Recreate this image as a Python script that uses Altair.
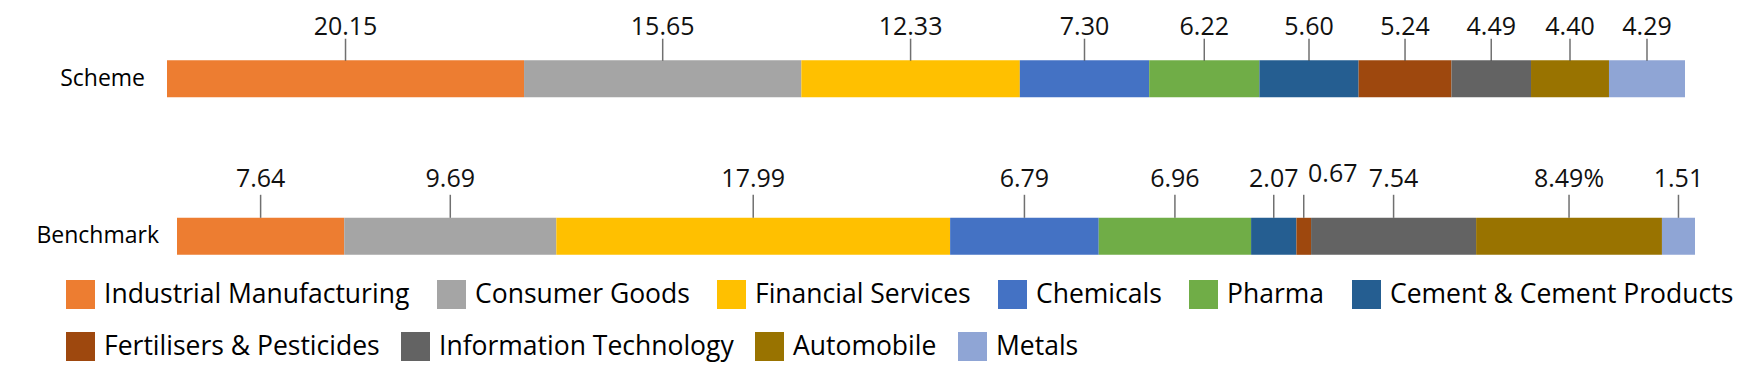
import altair as alt
import pandas as pd

categories = ["Industrial Manufacturing", "Consumer Goods", "Financial Services", "Chemicals",
              "Pharma", "Cement & Cement Products", "Fertilisers & Pesticides",
              "Information Technology", "Automobile", "Metals"]
colors = ["#ED7D31", "#A5A5A5", "#FFC000", "#4472C4", "#70AD47", "#255E91",
          "#9E480E", "#636363", "#997300", "#8FA5D5"]
rows = ["Scheme", "Benchmark"]
scheme_values = [20.15, 15.65, 12.33, 7.30, 6.22, 5.60, 5.24, 4.49, 4.40, 4.29]
benchmark_values = [7.64, 9.69, 17.99, 6.79, 6.96, 2.07, 0.67, 7.54, 8.49, 1.51]
scheme_labels = ["20.15", "15.65", "12.33", "7.30", "6.22", "5.60", "5.24", "4.49", "4.40", "4.29"]
benchmark_labels = ["7.64", "9.69", "17.99", "6.79", "6.96", "2.07", "0.67", "7.54", "8.49%", "1.51"]
legend_row1 = 6  # number of legend entries on the first legend line

recs = []
for r, vals, labs in [("Scheme", scheme_values, scheme_labels), ("Benchmark", benchmark_values, benchmark_labels)]:
    for i, (c, v, l) in enumerate(zip(categories, vals, labs)):
        recs.append({"row": r, "cat": c, "idx": i, "value": v, "label": l})
df = pd.DataFrame(recs)

FONT = "Open Sans"

base = (
    alt.Chart(df)
    .transform_joinaggregate(total="sum(value)", groupby=["row"])
    .transform_window(cum="sum(value)", sort=[alt.SortField("idx")], groupby=["row"], frame=[None, 0])
    .transform_calculate(
        s0="(datum.cum - datum.value) / datum.total",
        s1="datum.cum / datum.total",
        sm="(datum.cum - datum.value / 2) / datum.total",
    )
)

xs = alt.Scale(domain=[0, 1], nice=False, zero=False)
ys = alt.Scale(domain=rows, paddingInner=0.765, paddingOuter=0.382)
Y = alt.Y("row:N", scale=ys, axis=None)


def X(f):
    return alt.X(f, scale=xs, axis=None)


def legend(y, pad):
    return alt.Legend(
        title=None, orient="none", legendX=-101, legendY=y, direction="horizontal",
        symbolType="square", symbolSize=841, symbolStrokeWidth=0, symbolOpacity=1,
        labelFont=FONT, labelFontSize=26.5, labelColor="#000", labelOffset=9,
        columnPadding=pad, labelLimit=600,
    )


color1 = alt.Color("cat:N", scale=alt.Scale(domain=categories[:legend_row1], range=colors[:legend_row1]),
                   legend=legend(280, 27))
color2 = alt.Fill("cat:N", scale=alt.Scale(domain=categories[legend_row1:], range=colors[legend_row1:]),
                  legend=legend(332, 21))


def row_layers(row, xoff, text_dy, tick_yoff, tick_len, label_dx):
    b = base.transform_filter(alt.datum.row == row)
    bars1 = b.transform_filter(alt.datum.idx < legend_row1).mark_bar(
        xOffset=xoff, x2Offset=xoff).encode(x=X("s0:Q"), x2="s1:Q", y=Y, color=color1)
    bars2 = b.transform_filter(alt.datum.idx >= legend_row1).mark_bar(
        xOffset=xoff, x2Offset=xoff).encode(x=X("s0:Q"), x2="s1:Q", y=Y, fill=color2)
    ticks = b.mark_tick(thickness=1.5, size=tick_len, yOffset=tick_yoff,
                        xOffset=xoff, color="#333333").encode(x=X("sm:Q"), y=Y)
    normal = b.transform_filter("!(datum.row == 'Benchmark' && datum.idx == 6)")
    texts = normal.mark_text(font=FONT, fontSize=25, color="#111111", dy=text_dy,
                             xOffset=xoff, baseline="middle").encode(
        x=X("sm:Q"), y=Y, text="label:N")
    rowlab = b.transform_filter(alt.datum.idx == 0).mark_text(
        font=FONT, fontSize=23, color="#000", align="right", baseline="middle",
        dx=label_dx, xOffset=xoff).encode(x=X("s0:Q"), y=Y, text="row:N")
    layers = [bars1, bars2, ticks, texts, rowlab]
    if row == "Benchmark":
        special = b.transform_filter("datum.idx == 6").mark_text(
            font=FONT, fontSize=25, color="#111111", dy=text_dy - 5, dx=29,
            xOffset=xoff, baseline="middle").encode(x=X("sm:Q"), y=Y, text="label:N")
        layers.append(special)
    return layers


layers = row_layers("Scheme", 0, -52, -29, 22, -22) + row_layers("Benchmark", 10, -57, -30, 23, -18)

chart = (
    alt.layer(*layers)
    .properties(width=1518, height=315, autosize=alt.AutoSizeParams(type="none"),
                padding={"left": 167, "top": 0, "right": 59, "bottom": 60},
                background="white")
    .configure_view(stroke=None)
)

chart.save("out.html", embed_options={"renderer": "svg", "actions": False})
